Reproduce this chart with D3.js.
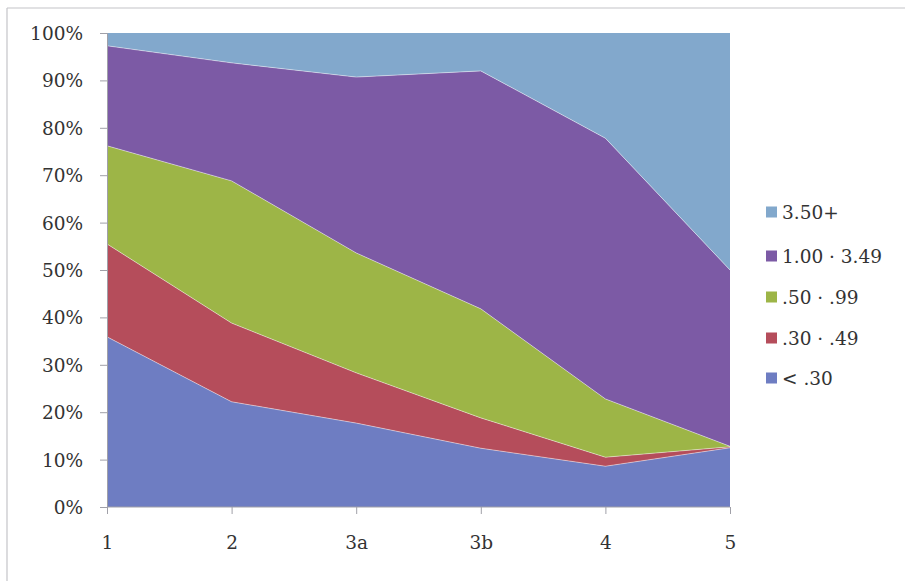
<!DOCTYPE html>
<html>
<head>
<meta charset="utf-8">
<script src="https://cdn.jsdelivr.net/npm/d3@7"></script>
<style>
  html, body { margin: 0; padding: 0; background: #fff; }
  svg { display: block; }
  .axis text { font-family: "DejaVu Serif", serif; font-size: 18.5px; fill: #333; }
  .axis path, .axis line { stroke: #a0a0a8; stroke-width: 1; }
  .legend text { font-family: "DejaVu Serif", serif; font-size: 18.5px; fill: #333; }
</style>
</head>
<body>
<script>
// Share of each band per group (percent)
const categories = ["1", "2", "3a", "3b", "4", "5"];
const bandLt30    = [35.9, 22.2, 17.7, 12.4,  8.6, 12.5];
const band30to49  = [19.6, 16.6, 10.6,  6.4,  1.9,  0.2];
const band50to99  = [20.7, 30.0, 25.3, 23.0, 12.3,  0.1];
const band100to349 = [21.1, 24.9, 37.1, 50.2, 55.0, 37.2];
const band350plus = [ 2.7,  6.3,  9.3,  8.0, 22.2, 50.0];

const seriesNames = ["< .30", ".30 \u00B7 .49", ".50 \u00B7 .99", "1.00 \u00B7 3.49", "3.50+"];
const seriesValues = [bandLt30, band30to49, band50to99, band100to349, band350plus];
const seriesColors = ["#6e7dc2", "#b54d5b", "#9db547", "#7c5aa5", "#82a8cc"];
const yTicks = [0, 0.1, 0.2, 0.3, 0.4, 0.5, 0.6, 0.7, 0.8, 0.9, 1.0];

const W = 905, H = 581;
const svg = d3.select("body").append("svg").attr("width", W).attr("height", H);

// frame lines along the top and left edge
svg.append("line").attr("x1", 7).attr("x2", W).attr("y1", 8).attr("y2", 8)
  .attr("stroke", "#c4c4c8").attr("stroke-width", 1.2);
svg.append("line").attr("x1", 7).attr("x2", 7).attr("y1", 8).attr("y2", H)
  .attr("stroke", "#c4c4c8").attr("stroke-width", 1.2);

const x = d3.scalePoint().domain(categories).range([107, 730]);
const y = d3.scaleLinear().domain([0, 1]).range([507, 33]);

const rows = categories.map((c, i) => {
  const r = { cat: c };
  seriesNames.forEach((n, k) => { r[n] = seriesValues[k][i]; });
  return r;
});

const stacked = d3.stack().keys(seriesNames).offset(d3.stackOffsetExpand)(rows);

const area = d3.area()
  .x(d => x(d.data.cat))
  .y0(d => y(d[0]))
  .y1(d => y(d[1]));

svg.append("g").selectAll("path").data(stacked).join("path")
  .attr("d", area)
  .attr("fill", (d, i) => seriesColors[i]);

// light seams between bands
const seam = d3.line().x(d => x(d.data.cat)).y(d => y(d[1]));
svg.append("g").selectAll("path").data(stacked.slice(0, 4)).join("path")
  .attr("d", seam)
  .attr("fill", "none")
  .attr("stroke", "rgba(255,255,255,0.45)")
  .attr("stroke-width", 1);

// axes
const yAxis = d3.axisLeft(y).tickValues(yTicks).tickFormat(d3.format(".0%")).tickSize(7).tickPadding(17);
svg.append("g").attr("class", "axis").attr("transform", "translate(107,0)").call(yAxis)
  .call(g => g.selectAll("text").attr("dy", "0.35em"));

const xAxis = d3.axisBottom(x).tickSize(7).tickPadding(22);
svg.append("g").attr("class", "axis").attr("transform", "translate(0,507)").call(xAxis)
  .call(g => g.select(".domain").attr("d", "M107,0H730"));

// legend, top entry first
const legend = svg.append("g").attr("class", "legend");
const order = [4, 3, 2, 1, 0];
const legendY = [212, 256, 297, 338, 378];
order.forEach((k, j) => {
  const g = legend.append("g").attr("transform", `translate(766,${legendY[j]})`);
  g.append("rect").attr("x", 0).attr("y", -5.5).attr("width", 11).attr("height", 11).attr("fill", seriesColors[k]);
  g.append("text").attr("x", 16).attr("y", 0).attr("dy", "0.36em").text(seriesNames[k]);
});
</script>
</body>
</html>
